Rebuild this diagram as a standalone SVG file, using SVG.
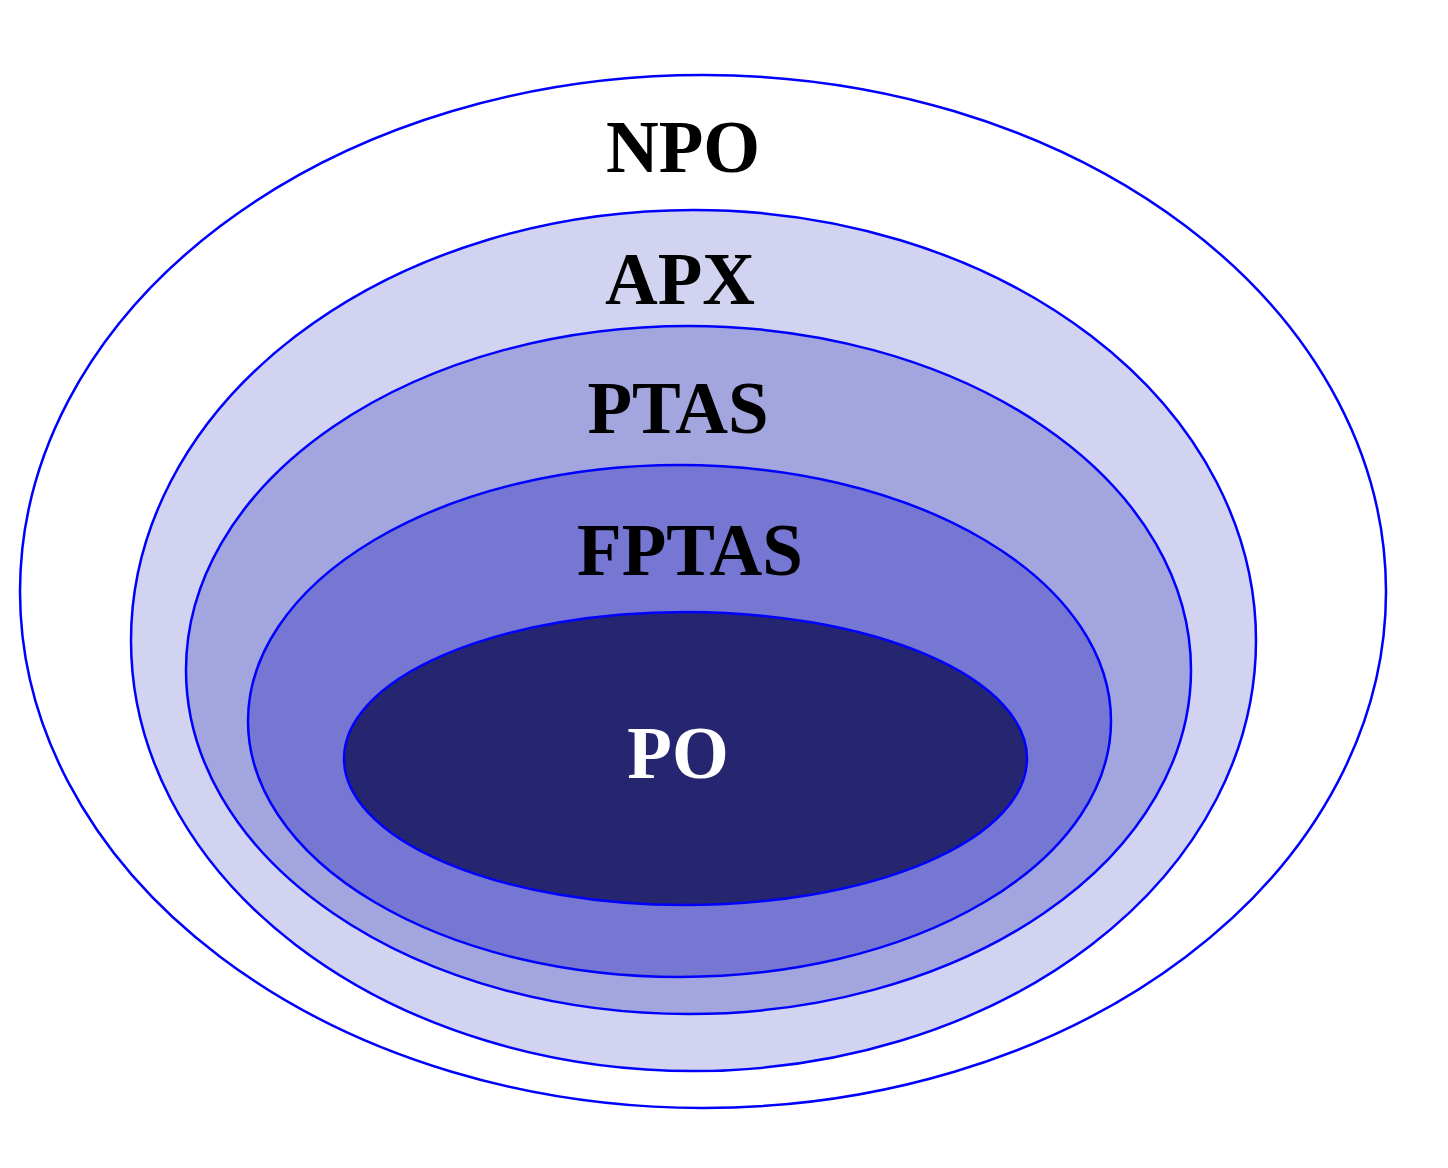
<svg xmlns="http://www.w3.org/2000/svg" width="1448" height="1168" viewBox="0 0 1448 1168">
<style>
ellipse{stroke:#0000ff;stroke-width:2.5}
text{font-family:"Liberation Serif","Times New Roman",serif;font-weight:bold;font-size:73px;text-anchor:middle}
</style>
<rect width="1448" height="1168" fill="#ffffff"/>
<g id="npo"><ellipse cx="703" cy="591.5" rx="683" ry="516.5" fill="#ffffff"/><text x="683" y="172">NPO</text></g>
<g id="apx"><ellipse cx="693.5" cy="640.5" rx="562.5" ry="430.5" fill="#d1d3f0"/><text x="680" y="304">APX</text></g>
<g id="ptas"><ellipse cx="688.5" cy="670" rx="502.5" ry="344" fill="#a3a5df"/><text x="678" y="433">PTAS</text></g>
<g id="fptas"><ellipse cx="679.5" cy="721" rx="431.5" ry="256" fill="#7577d2"/><text x="690" y="575">FPTAS</text></g>
<g id="po"><ellipse cx="685.5" cy="758.5" rx="341.5" ry="146.5" fill="#262670"/><text x="678" y="778" fill="#ffffff">PO</text></g>
<g id="connectors"/>
</svg>
